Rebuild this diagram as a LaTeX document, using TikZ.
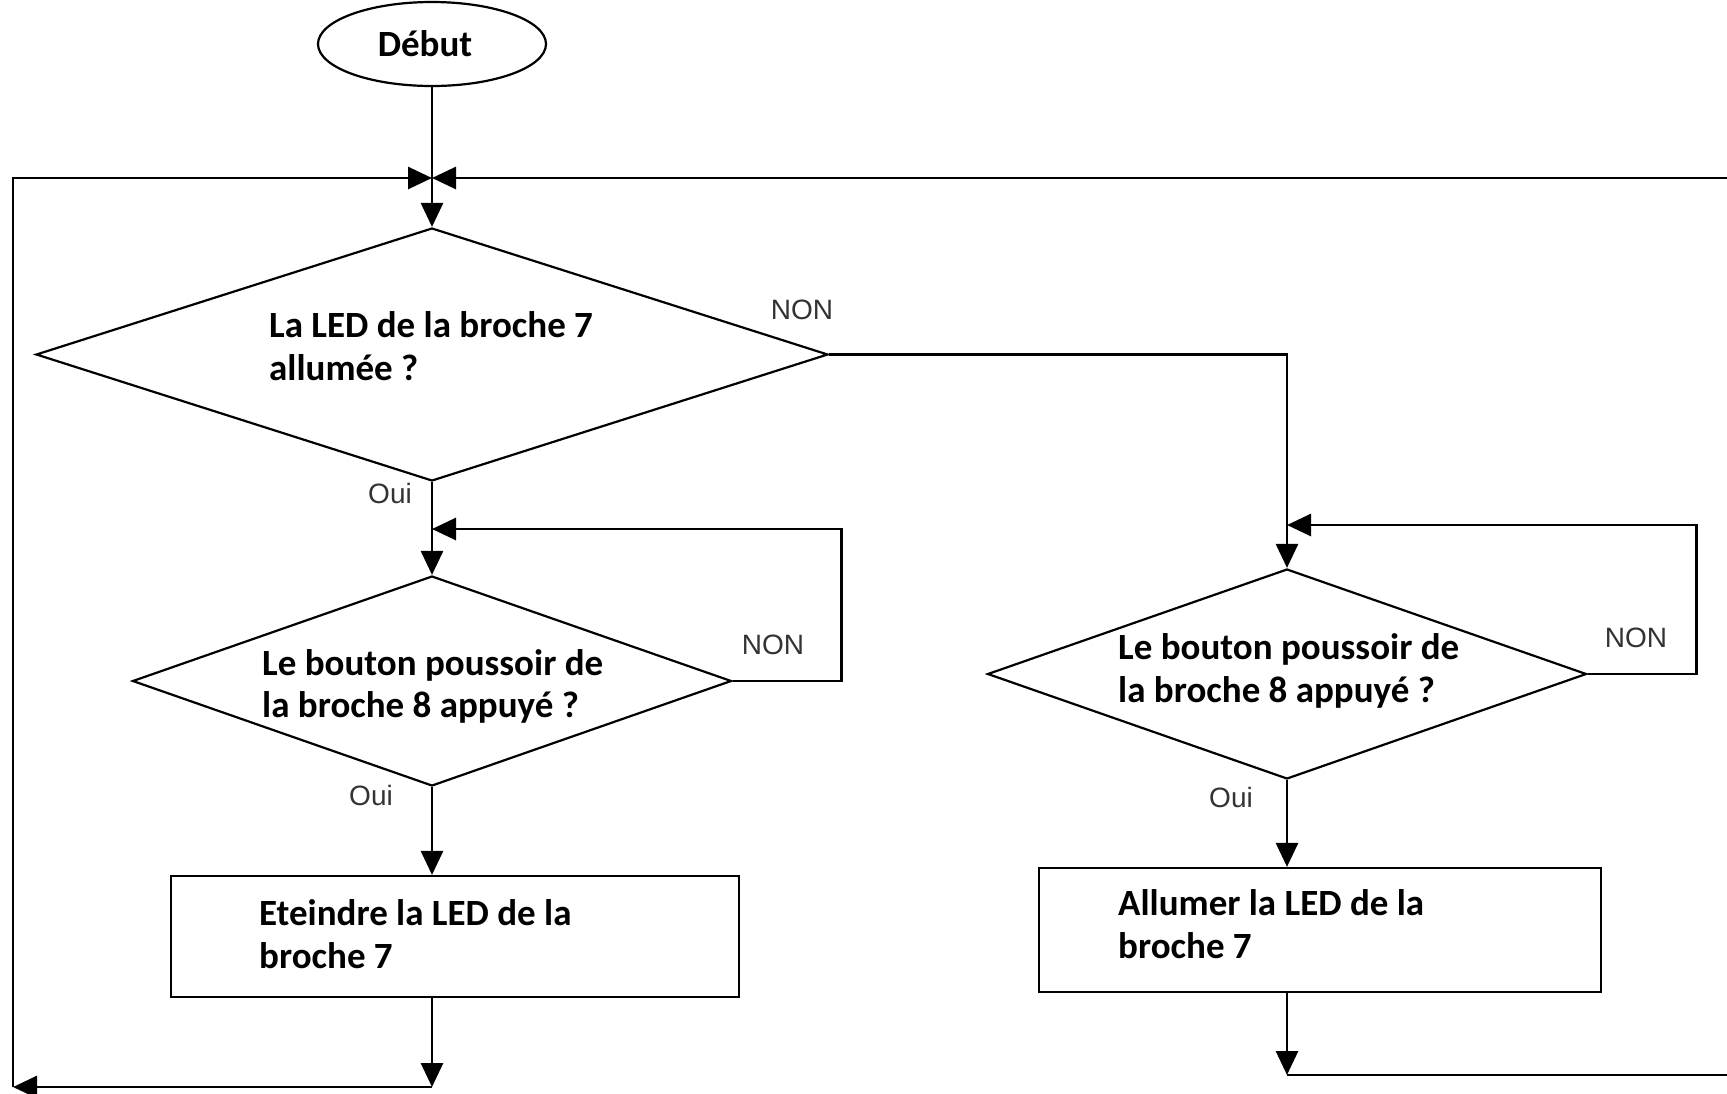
\documentclass[tikz,border=0pt]{standalone}
\usepackage{fontspec}
\setmainfont{Carlito}
\newfontfamily\labfont{Liberation Sans}
\usetikzlibrary{arrows.meta,shapes.geometric,calc}
\begin{document}
\begin{tikzpicture}[x=1pt,y=-1pt,
  conn/.style={line width=2.8pt, line join=miter},
  arr/.style={conn,-{Triangle[length=24pt,width=22pt]}},
  shapeline/.style={draw, line width=2.2pt, inner sep=0pt},
  decision/.style={shapeline, diamond},
  action/.style={shapeline, rectangle},
  txt/.style={anchor=base west, inner sep=0pt, font=\fontsize{37}{43}\selectfont\bfseries},
  lab/.style={inner sep=0pt, text=black!80, font=\labfont\fontsize{28}{30}\selectfont}
]
\useasboundingbox (0,0) rectangle (1727,1093);

% start
\node[shapeline, ellipse, minimum width=228pt, minimum height=84pt]
  (deb) at (432,44) {\fontsize{37}{40}\selectfont\bfseries\hspace*{-14pt}Début};

% decisions
\node[decision, minimum width=792pt, minimum height=253pt] (d1) at (432,354.5) {};
\node[decision, minimum width=599pt, minimum height=210pt] (d2) at (432,681) {};
\node[decision, minimum width=599pt, minimum height=210pt] (d3) at (1287,674) {};

% actions
\node[action, minimum width=568pt, minimum height=121pt] (r1) at (455,936.5) {};
\node[action, minimum width=562pt, minimum height=124pt] (r2) at (1320,930) {};

% texts
\node[txt] (t1a) at (269,337) {La LED de la broche 7};
\node[txt] (t1b) at (269,380) {allumée ?};
\node[txt] (t2a) at (262,675) {Le bouton poussoir de};
\node[txt] (t2b) at (262,717) {la broche 8 appuyé ?};
\node[txt] (t3a) at (1118,659) {Le bouton poussoir de};
\node[txt] (t3b) at (1118,702) {la broche 8 appuyé ?};
\node[txt] (t4a) at (259,925) {Eteindre la LED de la};
\node[txt] (t4b) at (259,968) {broche 7};
\node[txt] (t5a) at (1118,915) {Allumer la LED de la};
\node[txt] (t5b) at (1118,958) {broche 7};

% labels
\node[lab] (non1) at (802,310) {NON};
\node[lab] (oui1) at (390,493) {Oui};
\node[lab] (non2) at (773,645) {NON};
\node[lab] (oui2) at (371,795) {Oui};
\node[lab] (non3) at (1636,638) {NON};
\node[lab] (oui3) at (1231,797) {Oui};

% coordinates
\coordinate (J) at (432,178);
\coordinate (TL) at (13,178);
\coordinate (BL) at (13,1087);
\coordinate (B1) at (432,1087);
\coordinate (m2) at (432,529);
\coordinate (m3) at (1287,525);
\coordinate (B2) at (1287,1075);
\coordinate (BR) at (1760,1075);
\coordinate (TR) at (1760,178);

% connectors
\draw[arr] (deb.south) -- (d1.north);
\draw[arr] (d1.south) -- (d2.north);
\draw[arr] (d2.east) -- ++(109,0) |- (m2);
\draw[arr] (d1.east) -| (d3.north);
\draw[arr] (d3.east) -- ++(109,0) |- (m3);
\draw[arr] (d2.south) -- (d2.south |- r1.north);
\draw[arr] (d3.south) -- (d3.south |- r2.north);
\draw[arr] (d2.south |- r1.south) -- (B1);
\draw[arr] (B1) -- (BL);
\draw[arr] (BL) -- (TL) -- (J);
\draw[arr] (d3.south |- r2.south) -- (B2);
\draw[arr] (B2) -- (BR) -- (TR) -- (J);
\end{tikzpicture}
\end{document}
